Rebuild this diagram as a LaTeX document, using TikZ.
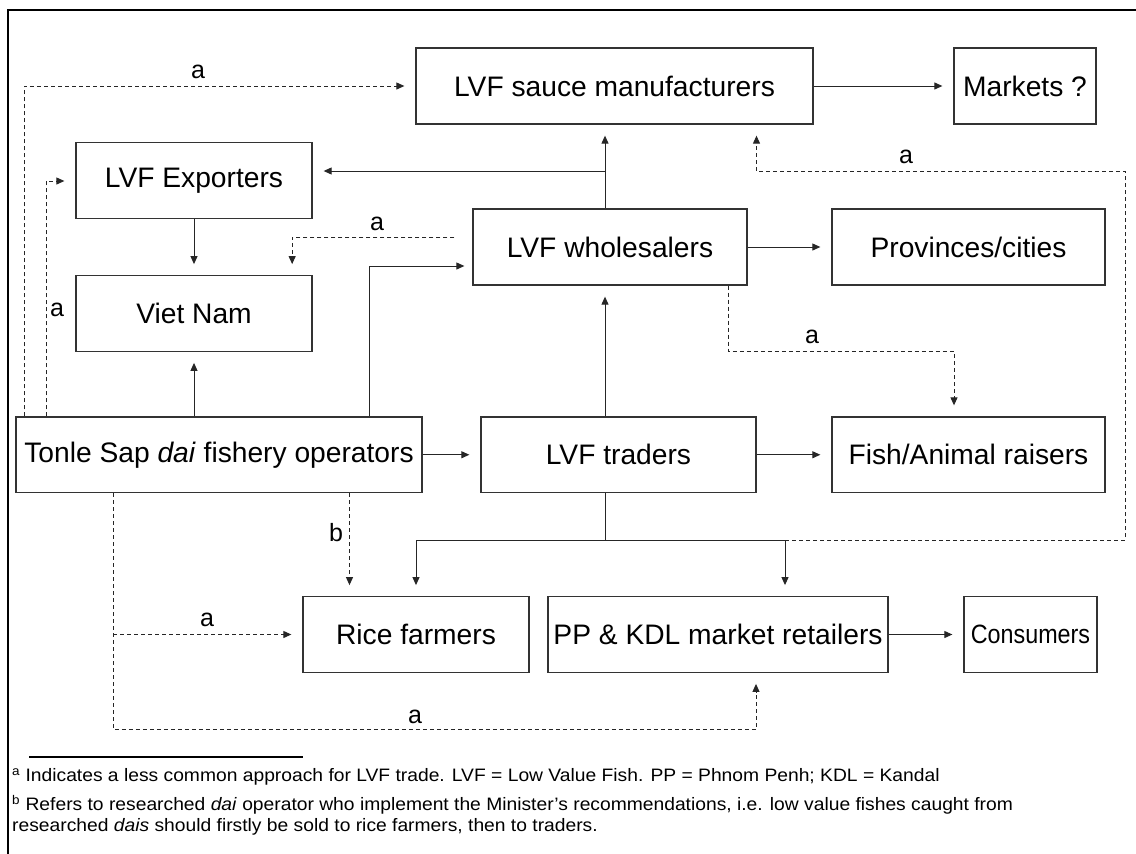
\documentclass[tikz,border=0pt]{standalone}
\usepackage{fontspec}
\usepackage{graphicx}
\setmainfont{Liberation Sans}
\usetikzlibrary{arrows.meta,calc}
\newcommand{\fnx}[1]{\scalebox{1.07}[1]{#1}}
\begin{document}
\begin{tikzpicture}[x=1pt,y=-1pt,
  box/.style={draw=black!80, line width=1.3pt, minimum width=#1pt, minimum height=75.5pt,
    inner sep=0pt, font=\fontsize{28.2}{34}\selectfont, anchor=center},
  box/.default=100,
  arr/.style={-{Triangle[length=8pt,width=7pt]}, line width=1pt, draw=black!85, shorten >=11pt},
  darr/.style={arr, dash pattern=on 4pt off 3pt},
  plain/.style={line width=1pt, draw=black!85},
  lbl/.style={font=\fontsize{25}{30}\selectfont, inner sep=0pt},
  fn/.style={font=\fontsize{18}{22}\selectfont, inner sep=0pt, anchor=west}
]
\useasboundingbox (0,0) rectangle (1136,854);
\fill[white] (0,0) rectangle (1136,854);
% frame
\draw[line width=2.2pt] (8,854) -- (8,10) -- (1136,10);

% boxes
\node[box=397, minimum height=76pt] (sauce) at (614.5,86) {LVF sauce manufacturers};
\node[box=142, minimum height=76pt] (mkt) at (1025,86) {Markets ?};
\node[box=236] (exp) at (194,180.5) {LVF Exporters};
\node[box=236] (vn) at (194,313.5) {Viet Nam};
\node[box=274, minimum height=76pt] (whole) at (610,247) {LVF wholesalers};
\node[box=273, minimum height=76pt] (prov) at (968.5,247) {Provinces/cities};
\node[box=406] (tonle) at (219,454.75) {Tonle Sap \textit{dai} fishery operators};
\node[box=275] (trad) at (618.5,454.75) {LVF traders};
\node[box=273] (fish) at (968.5,454.75) {Fish/Animal raisers};
\node[box=226] (rice) at (416,634.5) {Rice farmers};
\node[box=340] (pp) at (718,634.5) {PP \& KDL market retailers};
\node[box=133, font=\fontsize{26.5}{32}\selectfont] (cons) at (1030.5,634.5) {\scalebox{0.88}[1]{Consumers}};

% helper coordinates
\coordinate (spine) at (605,0);
\coordinate (bus) at (605,540);
\coordinate (rd) at (1125,171.5);
\coordinate (expin) at ($(exp.east)+(0,-9.5)$);
\coordinate (tw) at ($(tonle.north east)+(-53.5,0)$);
\coordinate (wi) at ($(whole.west)+(0,19)$);
\coordinate (ppin) at ($(pp.north)+(67,0)$);
\coordinate (o1) at ($(tonle.north west)+(9,0)$);
\coordinate (o2) at ($(tonle.north west)+(31,0)$);
\coordinate (expl) at ($(exp.west)+(0,0.5)$);
\coordinate (wvs) at ($(whole.west)+(-18,-9.5)$);
\coordinate (vnin) at ($(vn.north east)+(-20.5,0)$);
\coordinate (wf) at ($(whole.south east)+(-19,0)$);
\coordinate (fin) at ($(fish.north)+(-14.5,0)$);
\coordinate (sin) at ($(sauce.south)+(142,0)$);
\coordinate (bt) at ($(tonle.south)+(130.5,0)$);
\coordinate (tb) at ($(tonle.south west)+(98,0)$);
\coordinate (ppb) at ($(pp.south)+(38,0)$);

% solid connectors
\draw[arr] (sauce.east) -- (mkt.west);
\draw[arr] (whole.north -| spine) -- (sauce.south -| spine);
\draw[arr] (spine |- expin) -- (expin);
\draw[arr] (exp.south) -- (vn.north);
\draw[arr] (tonle.north -| vn.south) -- (vn.south);
\draw[arr, shorten >=8pt] (tw) |- (wi);
\draw[arr] (whole.east) -- (prov.west);
\draw[arr] (tonle.east) -- (trad.west);
\draw[arr] (trad.east) -- (fish.west);
\draw[arr] (trad.north -| spine) -- (whole.south -| spine);
\draw[plain] (trad.south -| spine) -- (bus);
\draw[arr] (bus) -| (rice.north);
\draw[arr] (bus) -| (ppin);
\draw[arr] (pp.east) -- (cons.west);

% dashed connectors
\draw[darr] (o1) |- (sauce.west);
\draw[darr] (o2) |- (expl);
\draw[darr] (wvs) -| (vnin);
\draw[darr] (wf) -- ++(0,65.7) -| (fin);
\draw[darr] (ppin |- bus) -| (rd) -| (sin);
\draw[darr] (bt) -- (bt |- rice.north);
\draw[darr] (tb) -- ++(0,236.5) -| (ppb);
\draw[darr] (tb |- rice.west) -- (rice.west);

% labels
\node[lbl] (la1) at (198,72) {a};
\node[lbl] (la2) at (57,310) {a};
\node[lbl] (la3) at (377,224) {a};
\node[lbl] (la4) at (906,157) {a};
\node[lbl] (la5) at (812,337) {a};
\node[lbl] (lb) at (336,533) {b};
\node[lbl] (la6) at (207,620) {a};
\node[lbl] (la7) at (415,717) {a};

% footnotes
\draw[line width=1.2pt] (29,757) -- (303,757);
\node[fn] (fa) at (12,777) {\fnx{\textsuperscript{a} Indicates a less common approach for LVF trade. LVF = Low Value Fish. PP = Phnom Penh; KDL = Kandal}};
\node[fn] (fb) at (12,805) {\fnx{\textsuperscript{b} Refers to researched \textit{dai} operator who implement the Minister's recommendations, i.e. low value fishes caught from}};
\node[fn] (fc) at (12,827) {\fnx{researched \textit{dais} should firstly be sold to rice farmers, then to traders.}};
\end{tikzpicture}
\end{document}
